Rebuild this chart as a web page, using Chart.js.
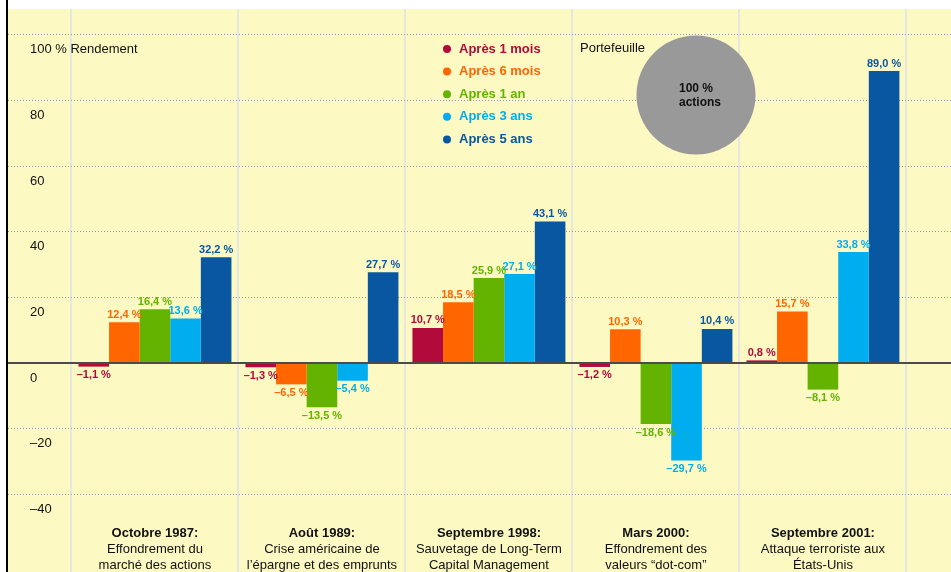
<!DOCTYPE html>
<html lang="fr">
<head>
<meta charset="utf-8">
<title>Rendement après une crise</title>
<script src="https://cdn.jsdelivr.net/npm/chart.js@4.4.1/dist/chart.umd.min.js"></script>
<style>
  html, body { margin: 0; padding: 0; background: #fff; }
</style>
</head>
<body>
<canvas id="js-crises" width="951" height="572"></canvas>
<script>
const crisisTitles = ['Octobre 1987:', 'Août 1989:', 'Septembre 1998:', 'Mars 2000:', 'Septembre 2001:'];
const crisisLines = [
  ['Effondrement du', 'marché des actions'],
  ['Crise américaine de', 'l’épargne et des emprunts'],
  ['Sauvetage de Long-Term', 'Capital Management'],
  ['Effondrement des', 'valeurs “dot-com”'],
  ['Attaque terroriste aux', 'États-Unis'],
];

const seriesLabels = ['Après 1 mois', 'Après 6 mois', 'Après 1 an', 'Après 3 ans', 'Après 5 ans'];
const after1Month = [-1.1, -1.3, 10.7, -1.2, 0.8];
const after6Months = [12.4, -6.5, 18.5, 10.3, 15.7];
const after1Year = [16.4, -13.5, 25.9, -18.6, -8.1];
const after3Years = [13.6, -5.4, 27.1, -29.7, 33.8];
const after5Years = [32.2, 27.7, 43.1, 10.4, 89.0];

const yTicks = [-40, -20, 0, 20, 40, 60, 80, 100];
const separators = [-0.5, 0.5, 1.5, 2.5, 3.5, 4.5];

const seriesColors = ['#b20a3b', '#ff6600', '#64b300', '#00aeef', '#0a57a1'];
const FONT = '"Liberation Sans", Arial, sans-serif';

Chart.defaults.font.family = FONT;

const fmt = (v) => `${v < 0 ? '–' : ''}${Math.abs(v).toFixed(1).replace('.', ',')} %`;

// scales must not push the plot area around
const noPad = (s) => {
  s.paddingTop = 0;
  s.paddingBottom = 0;
  s.paddingLeft = 0;
  s.paddingRight = 0;
};

const decorPlugin = {
  id: 'decor',
  beforeDraw(chart) {
    const { ctx, chartArea: a } = chart;
    ctx.save();
    ctx.fillStyle = '#fcf9c3';
    ctx.fillRect(a.left, a.top, a.right - a.left, a.bottom - a.top);
    ctx.restore();
  },
  afterDatasetsDraw(chart) {
    const { ctx, chartArea: a } = chart;
    const y0 = chart.scales.y.getPixelForValue(0);
    ctx.save();
    // zero line
    ctx.fillStyle = '#4b4b48';
    ctx.fillRect(a.left, Math.round(y0) - 1, a.right - a.left, 2);

    // value labels
    ctx.font = `bold 11px ${FONT}`;
    ctx.textAlign = 'center';
    chart.data.datasets.forEach((ds, di) => {
      const meta = chart.getDatasetMeta(di);
      meta.data.forEach((bar, i) => {
        const v = ds.data[i].y;
        ctx.fillStyle = ds.backgroundColor;
        if (v >= 0) {
          ctx.textBaseline = 'bottom';
          ctx.fillText(fmt(v), bar.x, bar.y - 2);
        } else {
          ctx.textBaseline = 'top';
          ctx.fillText(fmt(v), bar.x, bar.y + 3);
        }
      });
    });
    ctx.restore();
  },
  afterDraw(chart) {
    const { ctx } = chart;
    const x = chart.scales.x;
    ctx.save();

    // left black rule
    ctx.fillStyle = '#000';
    ctx.fillRect(6, 0, 2, chart.height);

    // legend
    ctx.textBaseline = 'middle';
    ctx.textAlign = 'left';
    ctx.font = `bold 13px ${FONT}`;
    chart.data.datasets.forEach((ds, i) => {
      const yy = 49 + i * 22.6;
      ctx.fillStyle = ds.backgroundColor;
      ctx.beginPath();
      ctx.arc(447, yy, 4, 0, Math.PI * 2);
      ctx.fill();
      ctx.fillText(ds.label, 459, yy);
    });

    // portfolio disc
    ctx.font = `13px ${FONT}`;
    ctx.fillStyle = '#111';
    ctx.fillText('Portefeuille', 580, 48);
    ctx.fillStyle = '#999999';
    ctx.beginPath();
    ctx.arc(696, 95, 59.5, 0, Math.PI * 2);
    ctx.fill();
    ctx.fillStyle = '#111';
    ctx.font = `bold 12px ${FONT}`;
    ctx.fillText('100 %', 679, 89);
    ctx.fillText('actions', 679, 103);

    // crisis captions
    ctx.textAlign = 'center';
    crisisTitles.forEach((t, i) => {
      const cx = x.getPixelForValue(i);
      ctx.font = `bold 13px ${FONT}`;
      ctx.fillText(t, cx, 533);
      ctx.font = `13px ${FONT}`;
      crisisLines[i].forEach((line, li) => ctx.fillText(line, cx, 549 + li * 16));
    });
    ctx.restore();
  },
};

const series = [after1Month, after6Months, after1Year, after3Years, after5Years];

new Chart(document.getElementById('js-crises'), {
  type: 'bar',
  data: {
    datasets: series.map((values, i) => ({
      label: seriesLabels[i],
      data: values.map((y, idx) => ({ x: idx, y })),
      backgroundColor: seriesColors[i],
      borderWidth: 0,
    })),
  },
  plugins: [decorPlugin],
  options: {
    responsive: false,
    animation: false,
    layout: { padding: { top: 9 } },
    categoryPercentage: 0.916,
    barPercentage: 1,
    plugins: {
      legend: { display: false },
      tooltip: { enabled: false },
    },
    scales: {
      x: {
        type: 'linear',
        offset: false,
        min: -0.88,
        max: 4.767,
        afterBuildTicks: (s) => { s.ticks = separators.map((value) => ({ value })); },
        afterFit: (s) => { s.height = 0; noPad(s); },
        ticks: { display: false },
        grid: { color: '#e6e6e3', lineWidth: 2, drawTicks: false, offset: false },
        border: { display: false },
      },
      y: {
        min: -63.7,
        max: 107.9,
        afterBuildTicks: (s) => { s.ticks = yTicks.map((value) => ({ value })); },
        afterFit: (s) => { s.width = 8; noPad(s); },
        grid: { color: '#8e9bb0', lineWidth: 1, drawTicks: false },
        border: { display: false, dash: [1, 2] },
        ticks: {
          mirror: true,
          padding: 22,
          labelOffset: 15,
          color: '#111',
          font: { size: 13 },
          callback: (v) => {
            if (v === 100) return '100 % Rendement';
            return v < 0 ? `–${Math.abs(v)}` : String(v);
          },
        },
      },
    },
  },
});
</script>
</body>
</html>
